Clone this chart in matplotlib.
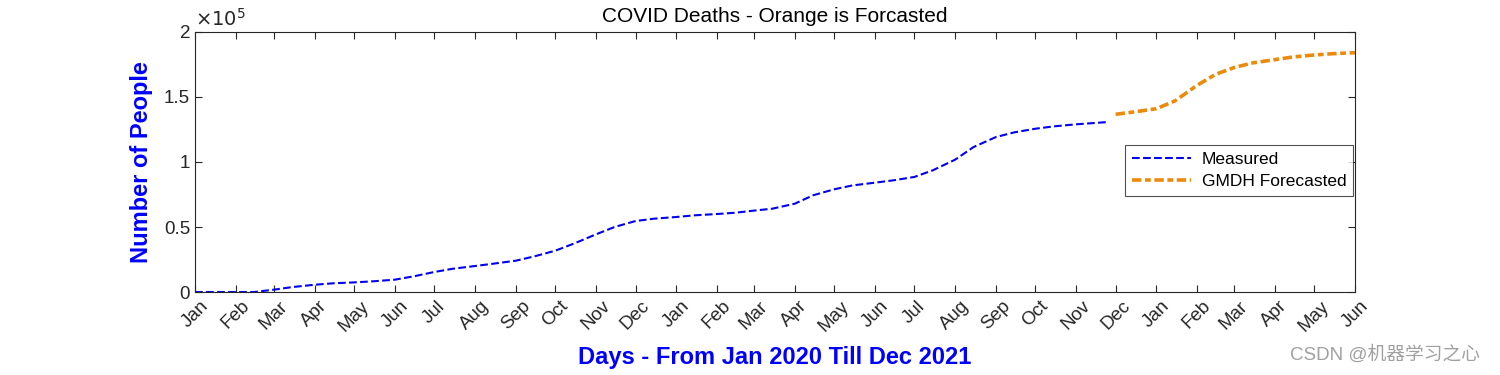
import pandas as pd
import matplotlib
matplotlib.use('Agg')
import matplotlib.pyplot as plt
import matplotlib.dates as mdates

# measured deaths (semi-monthly)
measured_dates = ['2020-01-01', '2020-02-01', '2020-02-15', '2020-03-01', '2020-03-15', '2020-04-01',
                  '2020-04-15', '2020-05-01', '2020-05-15', '2020-06-01', '2020-06-15', '2020-07-01',
                  '2020-07-15', '2020-08-01', '2020-08-15', '2020-09-01', '2020-09-15', '2020-10-01',
                  '2020-10-15', '2020-11-01', '2020-11-15', '2020-12-01', '2020-12-15', '2021-01-01',
                  '2021-01-15', '2021-02-01', '2021-02-15', '2021-03-01', '2021-03-15', '2021-04-01',
                  '2021-04-15', '2021-05-01', '2021-05-15', '2021-06-01', '2021-06-15', '2021-07-01',
                  '2021-07-15', '2021-08-01', '2021-08-15', '2021-09-01', '2021-09-15', '2021-10-01',
                  '2021-10-15', '2021-11-01', '2021-11-15', '2021-11-26']
measured_values = [0, 0, 0, 1800, 3800, 5600,
                   6700, 7400, 8200, 9500, 12000, 15400,
                   17900, 20000, 21800, 24100, 27400, 31800,
                   37200, 44400, 50000, 54600, 56400, 57700,
                   59000, 60000, 61000, 62600, 64100, 67900,
                   74400, 79000, 82000, 84100, 85900, 88500,
                   93600, 101800, 111500, 119200, 122800, 125600,
                   127400, 129000, 130000, 130800]

# GMDH forecast
forecast_dates = ['2021-12-01', '2021-12-15', '2022-01-01', '2022-01-15', '2022-02-01', '2022-02-15',
                  '2022-03-01', '2022-03-15', '2022-04-01', '2022-04-15', '2022-05-01', '2022-05-15',
                  '2022-06-01']
forecast_values = [136700, 138500, 141000, 146900, 159000, 167400,
                   172600, 176200, 178700, 180800, 182300, 183300,
                   184100]

yticks = [0, 50000, 100000, 150000, 200000]
ytick_labels = ['0', '0.5', '1', '1.5', '2']

font = ['Liberation Sans', 'DejaVu Sans']
plt.rcParams['font.family'] = font

fig = plt.figure(figsize=(15, 3.75), dpi=100)
ax = fig.add_axes([0.13, 0.2213, 0.7733, 0.6934])

ax.plot(pd.to_datetime(measured_dates), measured_values, color='#0000ee', linestyle='--',
        linewidth=1.5, label='Measured')
ax.plot(pd.to_datetime(forecast_dates), forecast_values, color='#ec8a0c',
        linestyle=(0, (2.6, 1.0, 1.6, 1.0)), linewidth=2.6, label='GMDH Forecasted')

ax.set_xlim(pd.Timestamp('2020-01-01'), pd.Timestamp('2022-06-01'))
ax.set_ylim(0, 200000)
ax.xaxis.set_major_locator(mdates.MonthLocator())
ax.xaxis.set_major_formatter(mdates.DateFormatter('%b'))
ax.set_yticks(yticks)
ax.set_yticklabels(ytick_labels)
ax.tick_params(direction='in', top=True, right=True, length=5, width=0.8, colors='#262626',
               labelsize=13.5)
ax.tick_params(axis='x', labelrotation=45, pad=4)
for lbl in ax.get_xticklabels():
    lbl.set_ha('center')
for s in ax.spines.values():
    s.set_color('#262626')
    s.set_linewidth(0.8)

ax.text(0.0, 1.01, r'$\times10^{5}$', transform=ax.transAxes, fontsize=14, color='#262626',
        ha='left', va='bottom', math_fontfamily='dejavusans')

ax.set_title('COVID Deaths - Orange is Forcasted', fontsize=15, pad=7)
ax.set_xlabel('Days - From Jan 2020 Till Dec 2021', fontsize=17, fontweight='bold', color='#0000ff',
              labelpad=8)
ax.set_ylabel('Number of People', fontsize=17, fontweight='bold', color='#0000ff', labelpad=8)

leg = ax.legend(loc='upper right', bbox_to_anchor=(0.9985, 0.565), fontsize=12.5, frameon=True,
                fancybox=False, handlelength=3.4, borderpad=0.4, labelspacing=0.4,
                handletextpad=0.6, borderaxespad=0)
leg.get_frame().set_edgecolor('#262626')
leg.get_frame().set_linewidth(0.8)

fig.text(0.987, 0.03, 'CSDN @机器学习之心', fontsize=13.5, color='#a0a0a0', ha='right', va='bottom',
         family=['Liberation Sans', 'Noto Sans CJK SC'])

fig.savefig('out.png', dpi=100)
